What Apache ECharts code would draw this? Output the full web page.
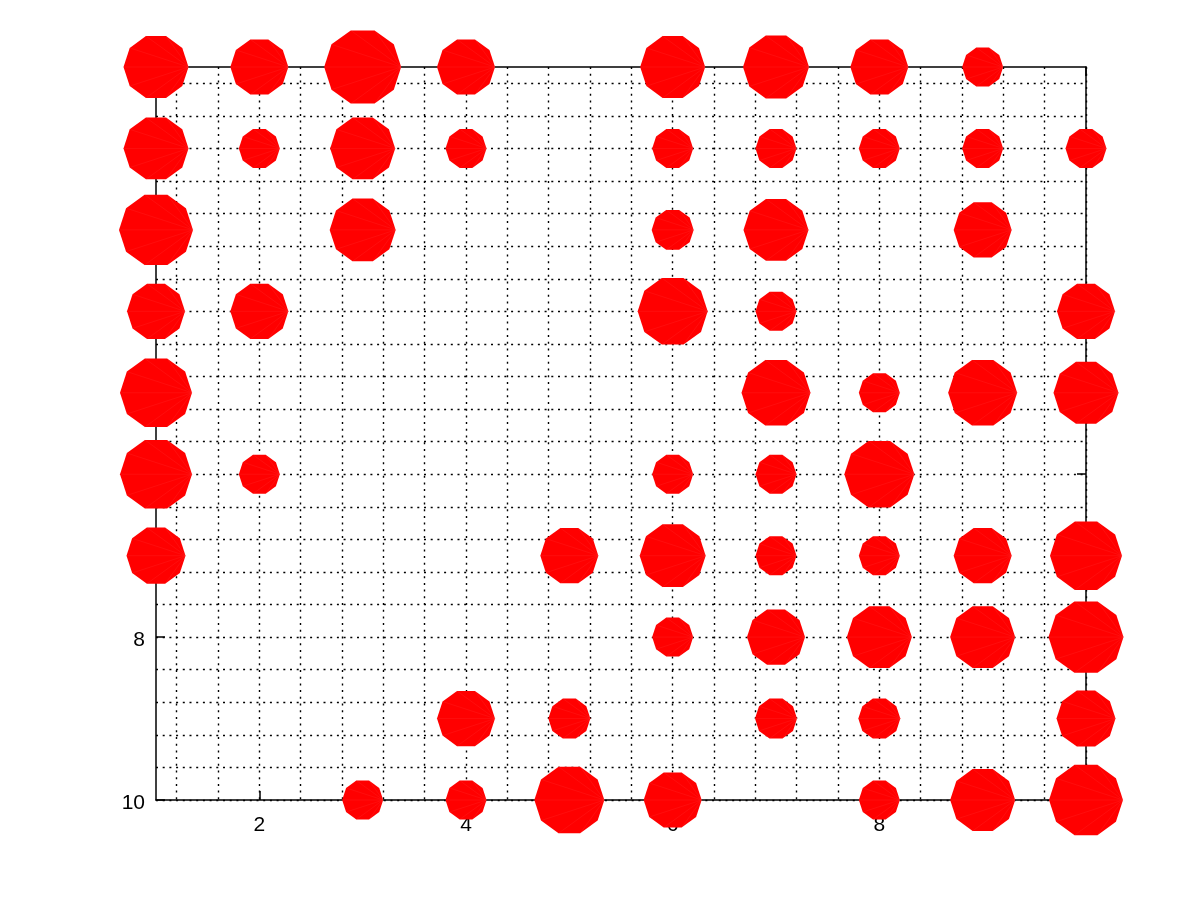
<!DOCTYPE html>
<html>
<head>
<meta charset="utf-8">
<script src="https://cdn.jsdelivr.net/npm/echarts@6/dist/echarts.min.js"></script>
<style>
html,body{margin:0;padding:0;background:#fff;}
#chart{width:1200px;height:900px;}
</style>
</head>
<body>
<div id="chart"></div>
<script>
// Columns (x) and rows (y) of the matrix
const xCategories = [1, 2, 3, 4, 5, 6, 7, 8, 9, 10];
const yCategories = [1, 2, 3, 4, 5, 6, 7, 8, 9, 10];
// Bubble values per row (0 = no point)
const row1  = [6.5, 5.8, 7.7, 5.8, 0,   6.5, 6.6, 5.8, 4.1, 0];
const row2  = [6.5, 4.1, 6.5, 4.1, 0,   4.1, 4.1, 4.1, 4.1, 4.1];
const row3  = [7.4, 0,   6.6, 0,   0,   4.2, 6.5, 0,   5.8, 0];
const row4  = [5.8, 5.8, 0,   0,   0,   7.0, 4.1, 0,   0,   5.8];
const row5  = [7.2, 0,   0,   0,   0,   0,   6.9, 4.1, 6.9, 6.5];
const row6  = [7.2, 4.1, 0,   0,   0,   4.1, 4.1, 7.0, 0,   0];
const row7  = [5.9, 0,   0,   0,   5.8, 6.6, 4.1, 4.1, 5.8, 7.2];
const row8  = [0,   0,   0,   0,   0,   4.1, 5.8, 6.5, 6.5, 7.5];
const row9  = [0,   0,   0,   5.8, 4.2, 0,   4.2, 4.2, 0,   5.9];
const row10 = [0,   0,   4.1, 4.1, 7.0, 5.8, 0,   4.1, 6.5, 7.4];
const rows = [row1, row2, row3, row4, row5, row6, row7, row8, row9, row10];
// Tick labels
const xTickLabels = [2, 4, 6, 8, 10];
const yTickLabels = [2, 4, 6, 8, 10];
// Grid (minor) line positions
const gridLines = [1.2,1.6,2.0,2.4,2.8,3.2,3.6,4.0,4.4,4.8,5.2,5.6,6.0,6.4,6.8,7.2,7.6,8.0,8.4,8.8,9.2,9.6,10.0];

const points = [];
rows.forEach((r, j) => {
  r.forEach((v, i) => {
    if (v > 0) points.push([xCategories[i], yCategories[j], v]);
  });
});

// regular decagon with a vertex pointing right
const V = [];
for (let k = 0; k < 10; k++) {
  const a = k * Math.PI / 5;
  V.push([(100 * Math.cos(a)).toFixed(2), (-100 * Math.sin(a)).toFixed(2)]);
}
const decagon = 'path://M' + V.map(p => p.join(',')).join(' L') + ' Z';
// faint triangulation seams from the right vertex
let fan = '';
for (let k = 2; k <= 8; k++) fan += 'M' + V[0].join(',') + ' L' + V[k].join(',') + ' ';
fan += 'M' + V[3].join(',') + ' L' + V[3].join(',') + ' M' + V[7].join(',') + ' L' + V[7].join(',');
const fanPath = 'path://' + fan;

const lineCol = '#000';
const labelText = { fontFamily: 'Liberation Sans', fontSize: 21, color: '#000' };

const chart = echarts.init(document.getElementById('chart'), null, { renderer: 'canvas' });
chart.setOption({
  animation: false,
  backgroundColor: '#fff',
  grid: { left: 156, top: 67, width: 930, height: 733, containLabel: false },
  xAxis: [
    {
      type: 'value', min: 1, max: 10, position: 'bottom',
      axisLine: { show: true, onZero: false, lineStyle: { color: lineCol, width: 1.5 } },
      axisTick: { show: true, inside: true, length: 9, customValues: xTickLabels, lineStyle: { color: lineCol, width: 1.5 } },
      axisLabel: Object.assign({ show: true, margin: 15, customValues: xTickLabels, showMinLabel: true, showMaxLabel: true }, labelText),
      splitLine: { show: false }
    },
    {
      type: 'value', min: 1, max: 10, position: 'top',
      axisLine: { show: true, onZero: false, lineStyle: { color: lineCol, width: 1.5 } },
      axisTick: { show: true, inside: true, length: 9, customValues: xTickLabels, lineStyle: { color: lineCol, width: 1.5 } },
      axisLabel: { show: false },
      splitLine: { show: false }
    }
  ],
  yAxis: [
    {
      type: 'value', min: 1, max: 10, inverse: true, position: 'left',
      axisLine: { show: true, onZero: false, lineStyle: { color: lineCol, width: 1.5 } },
      axisTick: { show: true, inside: true, length: 9, customValues: yTickLabels, lineStyle: { color: lineCol, width: 1.5 } },
      axisLabel: {
        show: true, margin: 11, customValues: yTickLabels, showMinLabel: true, showMaxLabel: true,
        formatter: v => '{a|' + v + '}',
        rich: { a: Object.assign({ padding: [7, 0, 0, 0] }, labelText) }
      },
      splitLine: { show: false }
    },
    {
      type: 'value', min: 1, max: 10, inverse: true, position: 'right',
      axisLine: { show: true, onZero: false, lineStyle: { color: lineCol, width: 1.5 } },
      axisTick: { show: true, inside: true, length: 9, customValues: yTickLabels, lineStyle: { color: lineCol, width: 1.5 } },
      axisLabel: { show: false },
      splitLine: { show: false }
    }
  ],
  series: [
    {
      type: 'line', data: [], z: 1, silent: true,
      markLine: {
        z: 1, silent: true, symbol: ['none', 'none'], label: { show: false },
        lineStyle: { color: '#000', width: 1.4, type: [2, 4.7] },
        emphasis: { disabled: true },
        data: gridLines.map(v => ({ xAxis: v })).concat(gridLines.map(v => ({ yAxis: v })))
      }
    },
    {
      type: 'scatter', data: points, z: 10, clip: false, silent: true,
      symbol: decagon, symbolKeepAspect: true,
      symbolSize: val => val[2] * 10,
      itemStyle: { color: '#ff0000', opacity: 1 }
    },
    {
      type: 'scatter', data: points, z: 11, clip: false, silent: true,
      symbol: fanPath, symbolKeepAspect: true,
      symbolSize: val => val[2] * 10,
      itemStyle: { color: 'none', borderColor: 'rgba(255,110,110,0.3)', borderWidth: 0.5 }
    }
  ]
});
</script>
</body>
</html>
